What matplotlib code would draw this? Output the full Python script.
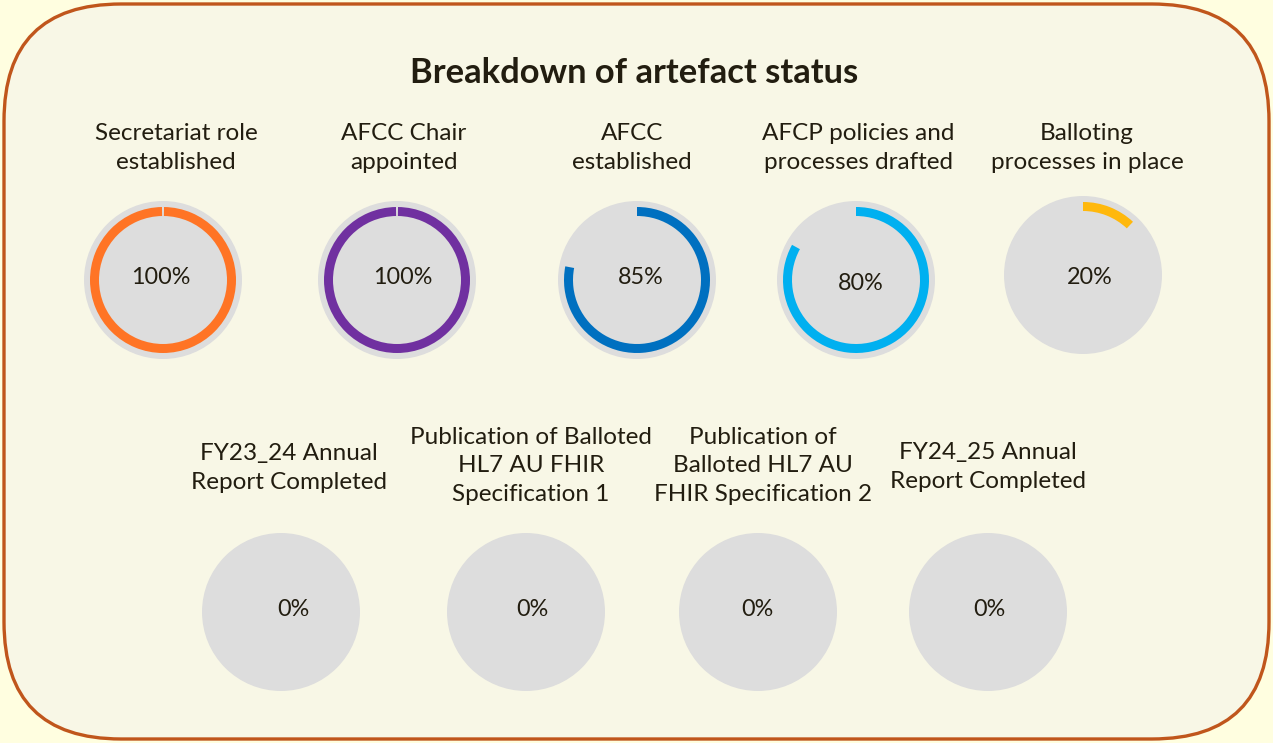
import matplotlib.pyplot as plt
from matplotlib.patches import Circle, Wedge, FancyBboxPatch

# artefact status data
labels = [
    "Secretariat role\nestablished",
    "AFCC Chair\nappointed",
    "AFCC\nestablished",
    "AFCP policies and\nprocesses drafted",
    "Balloting\nprocesses in place",
    "FY23_24 Annual\nReport Completed",
    "Publication of Balloted\nHL7 AU FHIR\nSpecification 1",
    "Publication of\nBalloted HL7 AU\nFHIR Specification 2",
    "FY24_25 Annual\nReport Completed",
]
pct_text = [100, 100, 85, 80, 20, 0, 0, 0, 0]
# arc lengths as drawn in the original (percent of full circle)
arc_pct = [100, 100, 78, 83, 12, 0, 0, 0, 0]
colors = ["#FF7425", "#7030A0", "#0070C0", "#00B0F0", "#FFB80C",
          "#FFC000", "#FFC000", "#FFC000", "#FFC000"]

# layout (pixels)
cx = [163, 397, 637, 856, 1083, 281, 526, 758, 988]
cy = [280, 280, 280, 280, 275, 612, 612, 612, 612]
lab_x = [176, 404, 632, 858, 1087, 289, 531, 763, 988]
lab_y = [148, 148, 148, 148, 148, 468, 466, 466, 467]
txt_dx = [-2, 6, 4, 5, 7, 12, 6, -1, 1]
txt_dy = [-2, -2, -2, 3, 2, -2, -2, -2, -2]

W, H = 1273, 743
R = 79
plt.rcParams['font.family'] = ['Lato', 'DejaVu Sans']
txtc = "#221D10"

fig = plt.figure(figsize=(W / 100, H / 100), dpi=100)
fig.patch.set_facecolor("#FFFEE0")
ax = fig.add_axes([0, 0, 1, 1])
ax.set_xlim(0, W)
ax.set_ylim(H, 0)
ax.set_aspect('equal')
ax.axis('off')

frame = FancyBboxPatch((4, 4), W - 8, H - 8,
                       boxstyle="round,pad=0,rounding_size=117",
                       facecolor="#F8F7E6", edgecolor="#C0561C", lw=2.4)
ax.add_patch(frame)

ax.text(634, 73, "Breakdown of artefact status", ha='center', va='center',
        fontsize=24.8, fontweight='bold', color=txtc)

for i in range(len(labels)):
    ax.add_patch(Circle((cx[i], cy[i]), R, facecolor="#DDDDDD", edgecolor='none'))
    a = arc_pct[i] / 100 * 360
    if a > 0:
        start = 270
        gap = 0.8 if arc_pct[i] >= 100 else 0
        ax.add_patch(Wedge((cx[i], cy[i]), R - 6, start + gap, start + a - gap,
                           width=9, facecolor=colors[i], edgecolor='none'))
    ax.text(cx[i] + txt_dx[i], cy[i] + txt_dy[i], f"{pct_text[i]}%",
            ha='center', va='center', fontsize=16.8, color=txtc)
    ax.text(lab_x[i], lab_y[i], labels[i], ha='center', va='center',
            fontsize=17.5, color=txtc, linespacing=1.46)

fig.savefig("out.png", dpi=100, facecolor=fig.get_facecolor())
